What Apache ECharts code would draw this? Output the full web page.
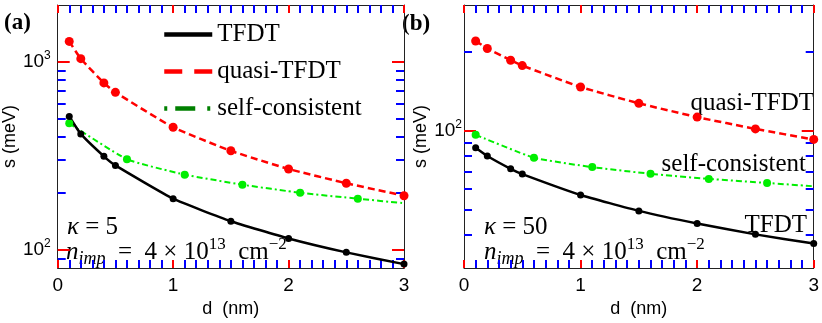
<!DOCTYPE html>
<html>
<head>
<meta charset="utf-8">
<script src="https://cdn.jsdelivr.net/npm/echarts@6/dist/echarts.min.js"></script>
<style>
  html, body { margin: 0; padding: 0; background: #fff; }
  #chart { width: 822px; height: 323px; }
</style>
</head>
<body>
<div id="chart"></div>
<script>
// d (nm) where the curves are sampled
const dList = [0.1, 0.2, 0.4, 0.5, 1, 1.5, 2, 2.5, 3];
const dSelf = [0.1, 0.6, 1.1, 1.6, 2.1, 2.6, 3];

// (a) kappa = 5
const tfdtA = [511, 413, 314, 281, 187, 142, 115, 97, 84];
const quasiA = [1281, 1037, 771, 687, 448, 336, 269, 226, 194];
const selfA = [470, 303, 251, 222, 201, 187, 177];

// (b) kappa = 50
const tfdtB = [86, 80, 71.5, 68.3, 56.9, 49.5, 44.3, 40.3, 37.2];
const quasiB = [219, 205, 185, 176.5, 146.4, 126.9, 112.5, 101.4, 92.5];
const selfB = [96.3, 78.8, 72.6, 68.5, 65.5, 63.2, 61.4];

const yRangeA = [80, 2000];
const yRangeB = [30, 300];
const majorA = [100, 1000];
const minorA = [90, 200, 300, 400, 500, 600, 700, 800, 900];
const majorB = [100];
const minorB = [40, 50, 60, 70, 80, 90, 200];

const sans = 'Liberation Sans';
const serif = 'Liberation Serif';
const frame = '#222';
const tickCol = 'red';

const pairs = (xs, ys) => ys.map((v, k) => [xs[k], v]);
// last point of self-consistent curve has no marker
const selfPairs = (ys) => ys.map((v, k) => k === ys.length - 1 ? { value: [dSelf[k], v], symbol: 'none' } : [dSelf[k], v]);

const supFmt = (v) => {
  const p = Math.round(Math.log10(v));
  return '{b|10}{s|' + p + '}';
};

function xAxes(gridIndex) {
  const base = {
    gridIndex: gridIndex, type: 'value', min: 0, max: 3, interval: 1,
    axisLine: { show: true, onZero: false, lineStyle: { color: frame, width: 1 } },
    axisTick: { show: true, inside: true, length: 8, lineStyle: { color: tickCol, width: 2 } },
    minorTick: { show: true, splitNumber: 10, length: 8, lineStyle: { color: 'blue', width: 2 } },
    splitLine: { show: false },
    minorSplitLine: { show: false }
  };
  return [
    Object.assign({}, base, {
      position: 'bottom',
      axisLabel: { show: true, margin: 8, fontFamily: sans, fontSize: 19, color: '#000' },
      name: 'd  (nm)', nameLocation: 'middle', nameGap: 25,
      nameTextStyle: { fontFamily: sans, fontSize: 18, color: '#000' }
    }),
    Object.assign({}, base, { position: 'top', axisLabel: { show: false } })
  ];
}

function yAxes(gridIndex, range, majors, minors, margin) {
  const base = {
    gridIndex: gridIndex, type: 'log', min: range[0], max: range[1],
    splitLine: { show: false }
  };
  const out = [];
  ['left', 'right'].forEach(function (pos) {
    out.push(Object.assign({}, base, {
      position: pos,
      axisLine: { show: true, onZero: false, lineStyle: { color: frame, width: 1 } },
      axisTick: { show: true, inside: true, length: 12, customValues: majors, lineStyle: { color: tickCol, width: 2 } },
      axisLabel: pos === 'left' ? {
        show: true, customValues: majors, margin: margin, formatter: supFmt,
        rich: {
          b: { fontFamily: sans, fontSize: 19, color: '#000', lineHeight: 24 },
          s: { fontFamily: sans, fontSize: 12, color: '#000', lineHeight: 12, verticalAlign: 'top' }
        }
      } : { show: false },
      name: pos === 'left' ? 's (meV)' : '', nameLocation: 'middle', nameGap: 32, nameRotate: 90,
      nameTextStyle: { fontFamily: sans, fontSize: 18, color: '#000' }
    }));
    out.push(Object.assign({}, base, {
      position: pos,
      axisLine: { show: false, onZero: false },
      axisTick: { show: true, inside: true, length: 8, customValues: minors, lineStyle: { color: 'blue', width: 2 } },
      axisLabel: { show: false }
    }));
  });
  return out;
}

function curves(xIdx, yIdx, tfdt, quasi, self) {
  return [
    {
      name: 'quasi-TFDT', type: 'line', xAxisIndex: xIdx, yAxisIndex: yIdx,
      data: pairs(dList, quasi), smooth: 0.15,
      symbol: 'circle', symbolSize: 9, itemStyle: { color: '#ff0000' },
      lineStyle: { color: '#ff0000', width: 2.5, type: [7, 4] }
    },
    {
      name: 'self-consistent', type: 'line', xAxisIndex: xIdx, yAxisIndex: yIdx,
      data: selfPairs(self), smooth: 0.15,
      symbol: 'circle', symbolSize: 8, itemStyle: { color: '#00ee00' },
      lineStyle: { color: '#00ee00', width: 2, type: [6, 3, 2, 3] }
    },
    {
      name: 'TFDT', type: 'line', xAxisIndex: xIdx, yAxisIndex: yIdx,
      data: pairs(dList, tfdt), smooth: 0.15,
      symbol: 'circle', symbolSize: 7, itemStyle: { color: '#000' },
      lineStyle: { color: '#000', width: 2.5 }
    }
  ];
}

function mathText(kappa) {
  return [
    {
      type: 'text',
      style: {
        text: '{i|κ}{r| = ' + kappa + '}',
        rich: {
          i: { fontFamily: serif, fontStyle: 'italic', fontSize: 25 },
          r: { fontFamily: serif, fontSize: 25 }
        }
      }
    },
    {
      type: 'text',
      style: {
        text: '{i|n}{sub|imp}{r|  =  4 × 10}{sup|13}{r|  cm}{sup|−2}',
        rich: {
          i: { fontFamily: serif, fontStyle: 'italic', fontSize: 25, lineHeight: 32 },
          sub: { fontFamily: serif, fontStyle: 'italic', fontSize: 18, lineHeight: 18, verticalAlign: 'bottom' },
          r: { fontFamily: serif, fontSize: 25, lineHeight: 32 },
          sup: { fontFamily: serif, fontSize: 17, lineHeight: 17, verticalAlign: 'top' }
        }
      }
    }
  ];
}

const chart = echarts.init(document.getElementById('chart'));

const mA = mathText(5);
const mB = mathText(50);
mA[0].left = 67; mA[0].top = 215;
mA[1].left = 66; mA[1].top = 236;
mB[0].left = 484; mB[0].top = 215;
mB[1].left = 484; mB[1].top = 236;

chart.setOption({
  animation: false,
  grid: [
    { left: 52, top: 5, width: 352, height: 268 },
    { left: 464, top: 5, width: 351, height: 268 }
  ],
  xAxis: xAxes(0).concat(xAxes(1)),
  yAxis: yAxes(0, yRangeA, majorA, minorA, 7).concat(yAxes(1, yRangeB, majorB, minorB, 2)),
  legend: {
    left: 157, top: 17, orient: 'vertical',
    itemWidth: 48, itemHeight: 22, itemGap: 12,
    textStyle: { fontFamily: serif, fontSize: 25, color: '#000' },
    data: [
      { name: 'TFDT', itemStyle: { opacity: 0 }, lineStyle: { color: '#000', width: 4.5, type: 'solid' } },
      { name: 'quasi-TFDT', itemStyle: { opacity: 0 }, lineStyle: { color: '#ff0000', width: 4.5, type: [18, 12] } },
      { name: 'self-consistent', itemStyle: { opacity: 0 }, lineStyle: { color: '#008000', width: 4.5, type: [3, 8, 20, 12] } }
    ]
  },
  graphic: [
    { type: 'text', left: 4, top: 12, style: { text: '(a)', font: 'bold 23px "Liberation Serif"', fill: '#000' } },
    { type: 'text', left: 402, top: 13, style: { text: '(b)', font: 'bold 23px "Liberation Serif"', fill: '#000' } },
    { type: 'text', right: 8, top: 91, style: { text: 'quasi-TFDT', font: '25px "Liberation Serif"', fill: '#000' } },
    { type: 'text', right: 16, top: 152, style: { text: 'self-consistent', font: '25px "Liberation Serif"', fill: '#000' } },
    { type: 'text', right: 15, top: 213, style: { text: 'TFDT', font: '25px "Liberation Serif"', fill: '#000' } }
  ].concat(mA, mB),
  series: curves(0, 0, tfdtA, quasiA, selfA).concat(curves(2, 4, tfdtB, quasiB, selfB))
});
</script>
</body>
</html>
